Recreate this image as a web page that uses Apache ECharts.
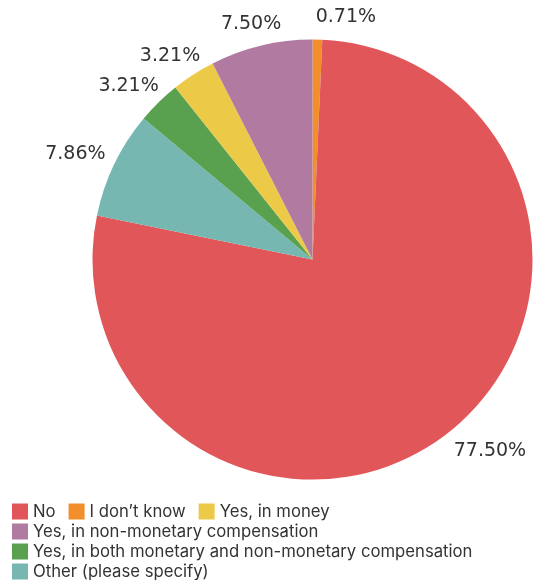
<!DOCTYPE html>
<html>
<head>
<meta charset="utf-8">
<script src="https://cdn.jsdelivr.net/npm/echarts@6/dist/echarts.min.js"></script>
<style>
  html, body { margin: 0; padding: 0; background: #fff; }
  #chart { width: 533px; height: 580px; }
</style>
</head>
<body>
<div id="chart"></div>
<script>
// Survey answers, in the order the slices run clockwise from 12 o'clock
const categories = [
  "I don\u2019t know",
  "No",
  "Other (please specify)",
  "Yes, in both monetary and non-monetary compensation",
  "Yes, in money",
  "Yes, in non-monetary compensation"
];
const shares = [0.71, 77.50, 7.86, 3.21, 3.21, 7.50];
const sliceColors = ["#F28E2B", "#E15759", "#76B7B2", "#59A14F", "#EDC948", "#B07AA1"];

// Order of entries in the legend
const legendOrder = [
  "No",
  "I don\u2019t know",
  "Yes, in money",
  "Yes, in non-monetary compensation",
  "Yes, in both monetary and non-monetary compensation",
  "Other (please specify)"
];

const chart = echarts.init(document.getElementById("chart"), null, { renderer: "canvas" });

const seriesData = categories.map((name, i) => ({
  name: name,
  value: shares[i],
  itemStyle: { color: sliceColors[i] }
}));

chart.setOption({
  animation: false,
  backgroundColor: "#ffffff",
  legend: {
    data: legendOrder,
    orient: "horizontal",
    left: 12,
    top: 503,
    width: 510,
    padding: 0,
    icon: "rect",
    itemWidth: 16,
    itemHeight: 16,
    itemGap: 3,
    textStyle: {
      fontFamily: "Inter",
      fontSize: 16.7,
      color: "#333333",
      lineHeight: 16,
      padding: [0, 10, 0, 0]
    },
    selectedMode: false
  },
  series: [{
    type: "pie",
    center: [312.5, 259.6],
    radius: 220,
    startAngle: 90,
    clockwise: true,
    data: seriesData,
    label: {
      show: true,
      position: "outside",
      overflow: "none",
      formatter: p => p.value.toFixed(2) + "%",
      fontFamily: "DejaVu Sans",
      fontSize: 19,
      color: "#333333"
    },
    labelLine: { show: false },
    // Each label sits just outside its slice, along the slice's middle direction.
    // Right-hand labels start at that direction; left-hand ones slide over smoothly.
    labelLayout: function (p) {
      const lay = chart.getModel().getSeriesByIndex(0).getData().getItemLayout(p.dataIndex);
      const mid = (lay.startAngle + lay.endAngle) / 2;
      const dx = Math.cos(mid), dy = Math.sin(mid);
      const R = lay.r + 13;
      const w = p.labelRect.width, h = p.labelRect.height;
      const shiftX = dx >= 0 ? w / 2 - 2 : (w / 2) * dx;
      return {
        x: lay.cx + R * dx + shiftX,
        y: lay.cy + R * dy + (h / 2) * dy,
        align: "center",
        verticalAlign: "middle"
      };
    },
    emphasis: { disabled: true }
  }]
});
</script>
</body>
</html>
